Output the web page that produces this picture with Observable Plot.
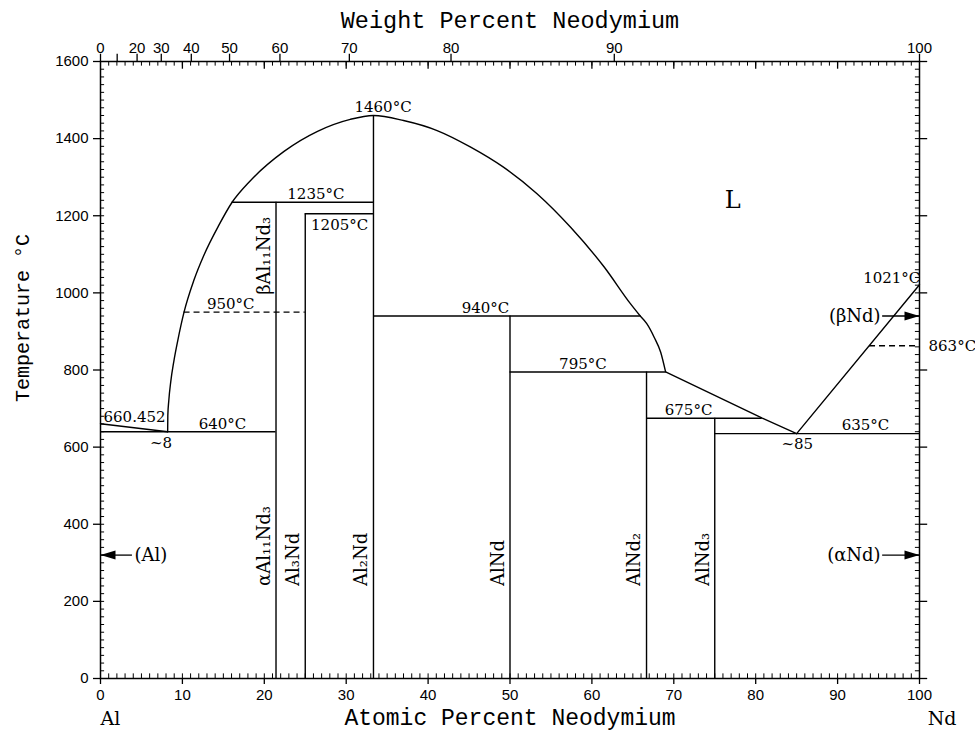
<!DOCTYPE html>
<html><head><meta charset="utf-8">
<script src="https://cdn.jsdelivr.net/npm/d3@7"></script>
<script src="https://cdn.jsdelivr.net/npm/@observablehq/plot@0.6"></script>
<style>body{margin:0;background:#fff}</style>
</head><body><div id="chart"></div>
<script>
// ---- axes / ticks ----
const atomicTicks = [0,10,20,30,40,50,60,70,80,90,100];
const tempTicks = [0,200,400,600,800,1000,1200,1400,1600];
const wtTicks = [0,10,20,30,40,50,60,70,80,90,100];
const wtTickLabels = ["0","","20","30","40","50","60","70","80","90","100"];
const MASS_AL = 26.98, MASS_ND = 144.24;

// ---- liquidus curves (atomic % Nd, °C) ----
const liquidusAlSide = [[0,660.452],[8.2,640]];
const liquidusMain = [[8.2,640],[8.22,682],[8.34,721],[8.58,770],[8.95,822],[9.44,877],[10.2,950],[11.39,1032],[12.61,1097],[14.44,1175],[16.07,1235],[18.3,1291],[22.41,1367],[26.5,1419],[30.5,1450],[33.33,1460],[37,1447],[41.1,1421],[45.2,1378],[49.2,1326],[53.3,1257],[57.4,1170],[61.5,1067],[64.7,972],[65.9,940]];
const liquidusAlNd2 = [[65.9,940],[66.7,920],[67.6,885],[68.4,846],[69,795]];
const liquidusEutectic = [[69,795],[80.8,675],[85,635]];
const liquidusNd = [[85,635],[100,1021]];

// ---- compounds (vertical lines) ----
const compoundNames = ["αAl₁₁Nd₃","Al₃Nd","Al₂Nd","AlNd","AlNd₂","AlNd₃"];
const compoundAt = [21.43,25,33.33,50,66.67,75];
const compoundTop = [1235,1205,1460,940,795,675];

// ---- invariant (horizontal) lines ----
const invT = [640,1235,1205,950,940,795,675,635,863];
const invFrom = [0,16.07,25,10.2,33.33,50,66.67,75,93.9];
const invTo = [21.43,33.33,33.33,25,65.9,69,80.8,100,100];
const invDashed = [false,false,false,true,false,false,false,false,true];

// ---- temperature annotations ----
const annText = ["1460°C","1235°C","1205°C","950°C","940°C","795°C","675°C","635°C","640°C","~8","~85","660.452","1021°C","863°C"];
const annAt   = [34.5,26.3,29.2,15.9,47.0,58.9,71.8,93.4,14.9,7.4,85.07,0,100.1,100];
const annT    = [1460,1235,1205,950,940,795,675,635,640,640,635,660.452,1021,863];
const annPos  = ["above","above","below","above","above","above","above","above","above","below","below","aboveStart","aboveEnd","right"];

// ---- phase arrows ----
const arrowLabels = ["(Al)","(αNd)","(βNd)"];
const arrowT = [320,320,940];
const arrowFrom = [3.9,95.5,95.5];
const arrowTip = [0,100,100];

// build tables
const wtToAt = w => { const a = w / MASS_ND, b = (100 - w) / MASS_AL; return 100 * a / (a + b); };
const wtData = wtTicks.map((w,i) => ({at: wtToAt(w), label: wtTickLabels[i]}));
const minorAt = d3.range(0,101,1);
const minorT = d3.range(0,1601,20);
const innerMajorAt = atomicTicks.slice(1,-1);
const compounds = compoundNames.map((n,i) => ({name:n, x:compoundAt[i], top:compoundTop[i]}));
const inv = invT.map((t,i) => ({T:t, x1:invFrom[i], x2:invTo[i], dashed:invDashed[i]}));
const ann = annText.map((t,i) => ({text:t, x:annAt[i], T:annT[i], pos:annPos[i]}));
const arrows = arrowLabels.map((l,i) => ({label:l, T:arrowT[i], x1:arrowFrom[i], tip:arrowTip[i], dir: arrowTip[i] < arrowFrom[i] ? -90 : 90}));

const SERIF = "DejaVu Serif";
const MONO = "Liberation Mono";
const LW = 1.4;
const byPos = p => ann.filter(d => d.pos === p);
const annOpts = {x:"x", y:"T", text:"text", fontFamily:SERIF, fontSize:15};

const chart = Plot.plot({
  width: 975, height: 733,
  marginLeft: 100, marginRight: 56, marginTop: 61, marginBottom: 55,
  x: {domain:[0,100]},
  y: {domain:[0,1600]},
  style: {fontFamily:"Liberation Sans", fontSize:"15px", color:"#000", background:"#fff"},
  marks: [
    // minor / inner ticks
    Plot.ruleX(minorAt, {x:d=>d, y1:0, y2:12, strokeWidth:1}),
    Plot.ruleX(minorAt, {x:d=>d, y1:1600, y2:1588, strokeWidth:1}),
    Plot.ruleX(innerMajorAt, {x:d=>d, y1:1600, y2:1580, strokeWidth:1.3}),
    Plot.ruleY(minorT, {y:d=>d, x1:0, x2:0.5, strokeWidth:1}),
    Plot.ruleY(minorT, {y:d=>d, x1:99.5, x2:100, strokeWidth:1}),
    Plot.ruleY(tempTicks, {y:d=>d, x1:100, x2:101, strokeWidth:1.3}),
    // axes
    Plot.axisX(atomicTicks, {anchor:"bottom", tickSize:6, tickPadding:5, label:null, fontSize:15, strokeWidth:1.3, tickFormat:d=>String(d)}),
    Plot.axisY(tempTicks, {anchor:"left", tickSize:7, tickPadding:5, label:null, fontSize:15, strokeWidth:1.3, tickFormat:d=>String(d)}),
    // weight percent (top) axis
    Plot.ruleX(wtData, {x:"at", y1:1600, y2:1619, strokeWidth:1.3}),
    Plot.text(wtData, {x:"at", y:1600, text:"label", dy:-13, fontSize:15}),
    Plot.frame({strokeWidth:1.5}),
    // phase boundaries
    Plot.line(liquidusAlSide, {x:d=>d[0], y:d=>d[1], strokeWidth:LW}),
    Plot.line(liquidusMain, {x:d=>d[0], y:d=>d[1], curve:"monotone-x", strokeWidth:LW}),
    Plot.line(liquidusAlNd2, {x:d=>d[0], y:d=>d[1], curve:"monotone-x", strokeWidth:LW}),
    Plot.line(liquidusEutectic, {x:d=>d[0], y:d=>d[1], strokeWidth:LW}),
    Plot.line(liquidusNd, {x:d=>d[0], y:d=>d[1], strokeWidth:LW}),
    Plot.ruleX(compounds, {x:"x", y1:0, y2:"top", strokeWidth:LW}),
    Plot.ruleY(inv.filter(d=>!d.dashed), {y:"T", x1:"x1", x2:"x2", strokeWidth:LW}),
    Plot.ruleY(inv.filter(d=>d.dashed), {y:"T", x1:"x1", x2:"x2", strokeWidth:LW, strokeDasharray:"6,4"}),
    // compound labels
    Plot.text(compounds, {x:"x", y:240, text:"name", rotate:-90, textAnchor:"start", dx:-12, fontFamily:SERIF, fontSize:18}),
    Plot.text(["βAl₁₁Nd₃"], {x:compoundAt[0], y:995, text:d=>d, rotate:-90, textAnchor:"start", dx:-12, fontFamily:SERIF, fontSize:18}),
    // temperature annotations
    Plot.text(byPos("above"), {...annOpts, dy:-8}),
    Plot.text(byPos("below"), {...annOpts, dy:11}),
    Plot.text(byPos("aboveStart"), {...annOpts, dy:-7, dx:3, textAnchor:"start"}),
    Plot.text(byPos("aboveEnd"), {...annOpts, dy:-7, textAnchor:"end"}),
    Plot.text(byPos("right"), {...annOpts, dx:9, textAnchor:"start"}),
    // phase arrows
    Plot.ruleY(arrows, {y:"T", x1:"x1", x2:"tip", strokeWidth:1.3}),
    Plot.vector(arrows, {x:"tip", y:"T", rotate:"dir", length:15, r:4.5, shape:"spike", anchor:"end", fill:"#000", stroke:"none"}),
    Plot.text(arrows.filter(d=>d.dir<0), {x:"x1", y:"T", text:"label", dx:2, textAnchor:"start", fontFamily:SERIF, fontSize:18}),
    Plot.text(arrows.filter(d=>d.dir>0), {x:"x1", y:"T", text:"label", dx:-2, textAnchor:"end", fontFamily:SERIF, fontSize:18}),
    // liquid region label
    Plot.text(["L"], {x:77.2, y:1240, text:d=>d, fontFamily:SERIF, fontSize:24}),
    // titles
    Plot.text(["Weight Percent Neodymium"], {frameAnchor:"top", lineAnchor:"middle", textAnchor:"middle", dy:-41, text:d=>d, fontFamily:MONO, fontSize:23.5}),
    Plot.text(["Atomic Percent Neodymium"], {frameAnchor:"bottom", lineAnchor:"middle", textAnchor:"middle", dy:39, text:d=>d, fontFamily:MONO, fontSize:23}),
    Plot.text(["Temperature °C"], {frameAnchor:"left", lineAnchor:"middle", textAnchor:"middle", dx:-78, dy:-52, rotate:-90, text:d=>d, fontFamily:MONO, fontSize:20}),
    Plot.text(["Al","Nd"], {x:[0,101], frameAnchor:"bottom", lineAnchor:"middle", dy:40, text:d=>d, textAnchor:"start", fontFamily:SERIF, fontSize:19})
  ]
});
document.getElementById("chart").appendChild(chart);
</script>
</body></html>
